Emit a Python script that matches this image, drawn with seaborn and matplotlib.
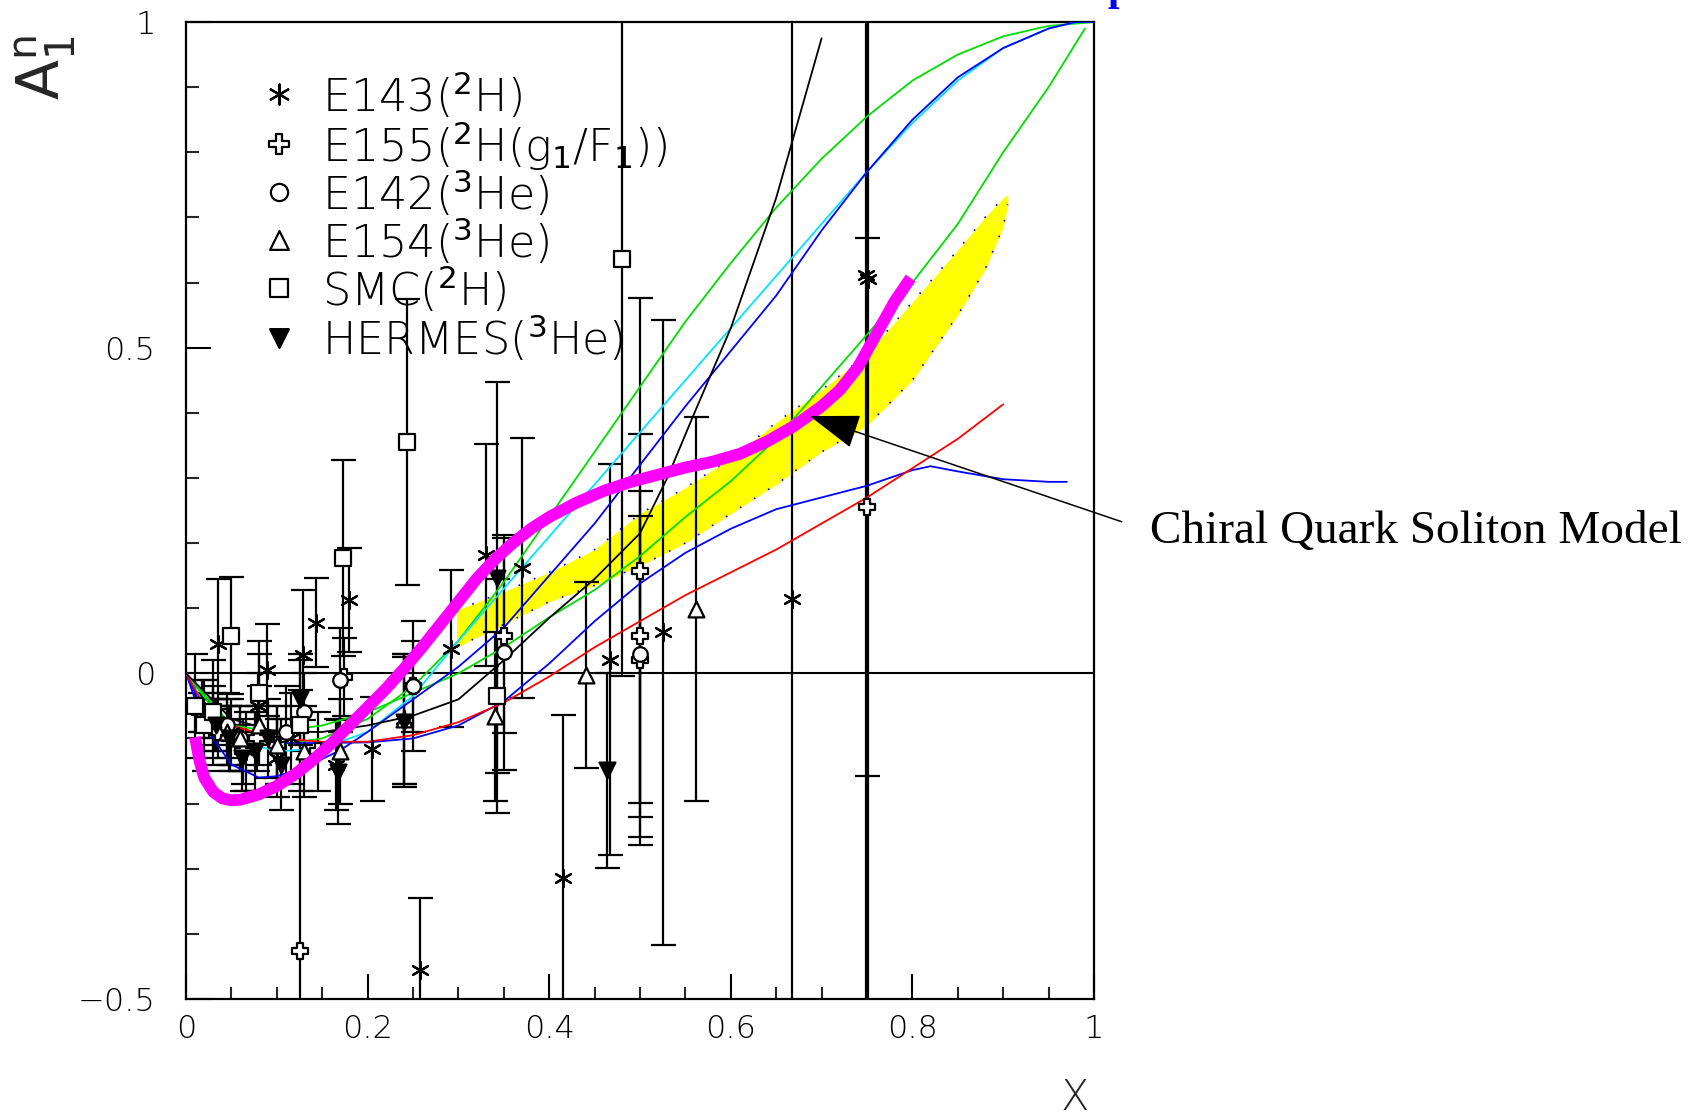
import numpy as np
import pandas as pd
import matplotlib
matplotlib.use('Agg')
import matplotlib.pyplot as plt
import seaborn as sns
from matplotlib.ticker import MultipleLocator

# ---------------- data ----------------
# Chiral Quark Soliton Model (thick magenta)
cqsm_x = [0.01, 0.015, 0.02, 0.03, 0.04, 0.05, 0.06, 0.08, 0.10, 0.12, 0.14, 0.16, 0.18, 0.20, 0.22, 0.24,
          0.26, 0.28, 0.30, 0.32, 0.34, 0.36, 0.38, 0.40, 0.43, 0.46, 0.49, 0.52, 0.55, 0.58, 0.61, 0.64,
          0.67, 0.70, 0.72, 0.74, 0.76, 0.78, 0.798]
cqsm_y = [-0.098, -0.135, -0.16, -0.182, -0.192, -0.195, -0.194, -0.186, -0.173, -0.155, -0.133, -0.108,
          -0.08, -0.052, -0.024, 0.007, 0.04, 0.075, 0.11, 0.145, 0.175, 0.20, 0.222, 0.24, 0.262, 0.28,
          0.294, 0.305, 0.316, 0.325, 0.337, 0.356, 0.38, 0.41, 0.435, 0.47, 0.52, 0.57, 0.607]

# yellow band
band_x = [0.298, 0.35, 0.40, 0.45, 0.50, 0.55, 0.60, 0.65, 0.70, 0.75, 0.80, 0.85, 0.88, 0.90, 0.905]
band_hi = [0.097, 0.125, 0.155, 0.19, 0.245, 0.285, 0.33, 0.385, 0.435, 0.49, 0.57, 0.65, 0.70, 0.73, 0.735]
band_lo = [0.04, 0.075, 0.11, 0.135, 0.165, 0.20, 0.245, 0.29, 0.34, 0.38, 0.45, 0.55, 0.62, 0.685, 0.72]

# thin model curves
green1_x = [0.0, 0.05, 0.10, 0.15, 0.20, 0.25, 0.30, 0.35, 0.40, 0.45, 0.50, 0.55, 0.60, 0.65, 0.70,
            0.75, 0.80, 0.85, 0.90, 0.95, 1.0]
green1_y = [0.0, -0.09, -0.11, -0.10, -0.07, -0.02, 0.05, 0.14, 0.24, 0.34, 0.44, 0.54, 0.63, 0.715,
            0.79, 0.855, 0.91, 0.95, 0.978, 0.994, 1.0]

green2_x = [0.0, 0.05, 0.10, 0.15, 0.20, 0.25, 0.30, 0.35, 0.40, 0.45, 0.50, 0.55, 0.60, 0.65, 0.70,
            0.75, 0.80, 0.85, 0.90, 0.95, 0.99]
green2_y = [0.0, -0.08, -0.09, -0.08, -0.06, -0.03, 0.0, 0.04, 0.086, 0.128, 0.18, 0.24, 0.295, 0.36,
            0.44, 0.52, 0.60, 0.69, 0.80, 0.90, 0.99]

cyan_x = [0.0, 0.03, 0.05, 0.10, 0.15, 0.20, 0.25, 0.30, 0.35, 0.40, 0.45, 0.50, 0.55, 0.60, 0.65, 0.70,
          0.75, 0.80, 0.85, 0.90, 0.95, 0.98, 1.0]
cyan_y = [0.0, -0.07, -0.10, -0.12, -0.115, -0.09, -0.035, 0.05, 0.13, 0.21, 0.29, 0.37, 0.45, 0.53,
          0.61, 0.69, 0.77, 0.845, 0.91, 0.96, 0.99, 1.0, 1.0]

blue1_x = [0.0, 0.02, 0.05, 0.08, 0.10, 0.13, 0.17, 0.20, 0.25, 0.30, 0.35, 0.40, 0.45, 0.50, 0.55, 0.60,
           0.65, 0.70, 0.75, 0.80, 0.85, 0.90, 0.95, 0.98, 1.0]
blue1_y = [0.0, -0.08, -0.14, -0.16, -0.158, -0.145, -0.118, -0.09, -0.04, 0.01, 0.07, 0.15, 0.23, 0.32,
           0.41, 0.495, 0.58, 0.68, 0.77, 0.85, 0.915, 0.96, 0.99, 1.0, 1.0]

blue2_x = [0.0, 0.02, 0.05, 0.10, 0.15, 0.20, 0.25, 0.30, 0.35, 0.40, 0.45, 0.50, 0.55, 0.60, 0.65, 0.70,
           0.75, 0.80, 0.82, 0.85, 0.90, 0.95, 0.97]
blue2_y = [0.0, -0.06, -0.09, -0.107, -0.107, -0.106, -0.10, -0.08, -0.043, 0.015, 0.08, 0.138, 0.185,
           0.222, 0.252, 0.27, 0.288, 0.312, 0.318, 0.31, 0.298, 0.294, 0.294]

red_x = [0.0, 0.02, 0.05, 0.10, 0.15, 0.20, 0.25, 0.30, 0.35, 0.40, 0.45, 0.50, 0.55, 0.60, 0.65, 0.70,
         0.75, 0.80, 0.85, 0.90]
red_y = [0.0, -0.05, -0.08, -0.10, -0.105, -0.105, -0.095, -0.075, -0.045, -0.005, 0.04, 0.08, 0.12,
         0.155, 0.19, 0.23, 0.27, 0.315, 0.36, 0.413]

black_x = [0.0, 0.05, 0.10, 0.15, 0.20, 0.25, 0.30, 0.35, 0.40, 0.45, 0.50, 0.53, 0.56, 0.60, 0.65, 0.70]
black_y = [0.0, -0.07, -0.09, -0.09, -0.08, -0.065, -0.04, 0.02, 0.085, 0.145, 0.215, 0.30, 0.40, 0.53,
           0.73, 0.975]

# experimental data
e143_x = [0.031, 0.035, 0.05, 0.066, 0.079, 0.089, 0.10, 0.116, 0.129, 0.143, 0.165, 0.18, 0.205, 0.24, 0.258,
          0.292, 0.33, 0.37, 0.415, 0.467, 0.525, 0.667, 0.749, 0.751]
e143_y = [-0.08, 0.045, -0.09, -0.12, -0.05, 0.005, -0.13, -0.10, 0.028, 0.078, -0.14, 0.112, -0.116, -0.07,
          -0.455, 0.038, 0.182, 0.162, -0.314, 0.021, 0.063, 0.114, 0.612, 0.605]
e143_e = [0.04, 0.10, 0.05, 0.06, 0.05, 0.07, 0.06, 0.07, 0.10, 0.068, 0.07, 0.08, 0.08, 0.10, 0.11, 0.12,
          0.17, 0.20, 0.25, 0.30, 0.48, 1.5, 1.5, 1.5]

e155_x = [0.015, 0.025, 0.035, 0.049, 0.063, 0.078, 0.10, 0.125, 0.145, 0.174, 0.25, 0.35, 0.50, 0.50, 0.50, 0.75]
e155_y = [-0.06, -0.07, -0.09, -0.10, -0.12, -0.10, -0.11, -0.426, -0.12, -0.005, -0.02, 0.058, 0.157, 0.058, 0.021, 0.256]
e155_e = [0.03, 0.03, 0.04, 0.05, 0.05, 0.05, 0.06, 0.40, 0.06, 0.06, 0.07, 0.15, 0.42, 0.31, 0.22, 0.413]

e142_x = [0.03, 0.045, 0.06, 0.08, 0.11, 0.13, 0.17, 0.25, 0.35, 0.50]
e142_y = [-0.06, -0.08, -0.10, -0.03, -0.09, -0.06, -0.01, -0.02, 0.032, 0.03]
e142_e = [0.04, 0.05, 0.05, 0.06, 0.07, 0.06, 0.08, 0.10, 0.18, 0.25]

e154_x = [0.018, 0.03, 0.045, 0.06, 0.08, 0.10, 0.13, 0.17, 0.24, 0.34, 0.44, 0.562]
e154_y = [-0.05, -0.07, -0.09, -0.10, -0.08, -0.11, -0.12, -0.12, -0.07, -0.066, -0.003, 0.099]
e154_e = [0.04, 0.04, 0.05, 0.05, 0.06, 0.06, 0.07, 0.08, 0.10, 0.13, 0.143, 0.295]

smc_x = [0.01, 0.02, 0.03, 0.05, 0.08, 0.125, 0.173, 0.243, 0.342, 0.48]
smc_y = [-0.05, -0.08, -0.06, 0.058, -0.03, -0.08, 0.177, 0.355, -0.035, 0.636]
smc_e = [0.08, 0.07, 0.08, 0.09, 0.08, 0.10, 0.15, 0.22, 0.18, 0.64]

hermes_x = [0.033, 0.047, 0.062, 0.076, 0.09, 0.105, 0.125, 0.167, 0.24, 0.342, 0.464]
hermes_y = [-0.08, -0.10, -0.13, -0.12, -0.10, -0.14, -0.04, -0.152, -0.075, 0.147, -0.149]
hermes_e = [0.04, 0.05, 0.05, 0.06, 0.06, 0.07, 0.07, 0.08, 0.10, 0.30, 0.15]

legend_labels = [r'E143($^{2}$H)', r'E155($^{2}$H(g$_{1}$/F$_{1}$))', r'E142($^{3}$He)',
                 r'E154($^{3}$He)', r'SMC($^{2}$H)', r'HERMES($^{3}$He)']

xtick_vals = [0, 0.2, 0.4, 0.6, 0.8, 1.0]
xtick_labels = ['0', '0.2', '0.4', '0.6', '0.8', '1']
ytick_vals = [-0.5, 0, 0.5, 1.0]
ytick_labels = ['\u22120.5', '0', '0.5', '1']

# ---------------- figure ----------------
sns.set_theme(style='white')
plt.rcParams['font.family'] = ['DejaVu Sans']
plt.rcParams['mathtext.fontset'] = 'dejavusans'

W, H = 1693, 1118
fig = plt.figure(figsize=(W / 100, H / 100), dpi=100)
ax = fig.add_axes([186 / W, 1 - 999 / H, (1094 - 186) / W, (999 - 22) / H])
ax.set_facecolor('white')

# band
ax.fill_between(band_x, band_lo, band_hi, color='#ffff00', lw=0, zorder=1)
ax.plot(band_x, band_hi, ls=(0, (1, 9)), color='blue', lw=1.2, zorder=1.1)
ax.plot(band_x, band_lo, ls=(0, (1, 9)), color='blue', lw=1.2, zorder=1.1)

# zero line
ax.axhline(0, color='black', lw=1.5, zorder=1.5)

# error bars + markers
datasets = [
    (e143_x, e143_y, e143_e, (6, 2, 0), 'black', 150),
    (e155_x, e155_y, e155_e, 'P', 'white', 140),
    (e142_x, e142_y, e142_e, 'o', 'white', 110),
    (e154_x, e154_y, e154_e, '^', 'white', 130),
    (smc_x, smc_y, smc_e, 's', 'white', 120),
    (hermes_x, hermes_y, hermes_e, 'v', 'black', 130),
]
for xs, ys, es, mk, fc, size in datasets:
    ax.errorbar(xs, ys, yerr=es, fmt='none', ecolor='black', elinewidth=1.6,
                capsize=9, capthick=1.6, zorder=2)

# model curves
curves = [
    (green1_x, green1_y, '#00dd00'),
    (green2_x, green2_y, '#00dd00'),
    (cyan_x, cyan_y, '#00e5ff'),
    (blue1_x, blue1_y, '#0000ff'),
    (blue2_x, blue2_y, '#0000ff'),
    (red_x, red_y, '#ff0000'),
    (black_x, black_y, '#000000'),
]
for cx, cy, col in curves:
    sns.lineplot(x=cx, y=cy, sort=False, estimator=None, color=col, lw=1.3, ax=ax, zorder=3,
                 solid_joinstyle='round')

for xs, ys, es, mk, fc, size in datasets:
    sns.scatterplot(x=xs, y=ys, marker=mk, s=size, fc=fc, ec='black', linewidth=1.6,
                    ax=ax, zorder=4, legend=False)

# CQSM thick curve
sns.lineplot(x=cqsm_x, y=cqsm_y, sort=False, estimator=None, color='#ff00ff', lw=8.5,
             ax=ax, zorder=5, solid_capstyle='butt', solid_joinstyle='round')

# manual legend
leg_rows = [0.889, 0.8126, 0.739, 0.665, 0.591, 0.515]
for (xs, ys, es, mk, fc, size), lab, yr in zip(datasets, legend_labels, leg_rows):
    ax.scatter([0.1024], [yr], marker=mk, s=size * 1.4, fc=fc, ec='black', linewidths=1.6, zorder=6)
    ax.text(0.1498, yr - 0.027, lab, fontsize=32, ha='left', va='baseline', zorder=6,
            fontweight='light', color='black')

# axes
ax.set_xlim(0, 1)
ax.set_ylim(-0.5, 1)
ax.set_xticks(xtick_vals)
ax.set_xticklabels(xtick_labels)
ax.set_yticks(ytick_vals)
ax.set_yticklabels(ytick_labels)
ax.xaxis.set_minor_locator(MultipleLocator(0.05))
ax.yaxis.set_minor_locator(MultipleLocator(0.1))
ax.tick_params(axis='both', which='major', direction='in', length=18, width=1.5,
               labelsize=23, colors='black', bottom=True, left=True, top=False, right=False)
ax.tick_params(axis='both', which='minor', direction='in', length=9, width=1.5,
               bottom=True, left=True, top=False, right=False)
ax.tick_params(axis='y', which='major', pad=22)
ax.tick_params(axis='x', which='major', pad=11)
for lab in ax.get_xticklabels() + ax.get_yticklabels():
    lab.set_fontweight('light')
for sp in ax.spines.values():
    sp.set_color('black')
    sp.set_linewidth(1.6)
    sp.set_visible(True)
ax.set_xlabel('')
ax.set_ylabel('')

# annotation
ax.annotate('Chiral Quark Soliton Model', xy=(0.687, 0.395), xytext=(1.0617, 0.218),
            textcoords='data', ha='left', va='center', fontsize=34, family='Liberation Serif',
            color='black',
            arrowprops=dict(arrowstyle='-|>,head_length=1.6,head_width=0.55', color='black',
                            lw=1.1, shrinkA=19, shrinkB=0, relpos=(0, 0.5), mutation_scale=20),
            annotation_clip=False, zorder=10)

# axis titles
fig.text(1075 / W, 1 - 1097 / H, 'X', fontsize=30, ha='center', va='center', fontweight='light')
fig.text(45 / W, 1 - 68 / H, r'$\mathregular{A_1^n}$', rotation=90, fontsize=42,
         ha='center', va='center')
# blue title fragment at the very top edge (mostly outside the canvas, as in the reference)
fig.text(1119 / W, 1.0, 'p', color='blue', fontsize=30, family='Liberation Serif',
         fontweight='bold', ha='center', va='baseline')

fig.savefig('out.png', dpi=100, facecolor='white')
